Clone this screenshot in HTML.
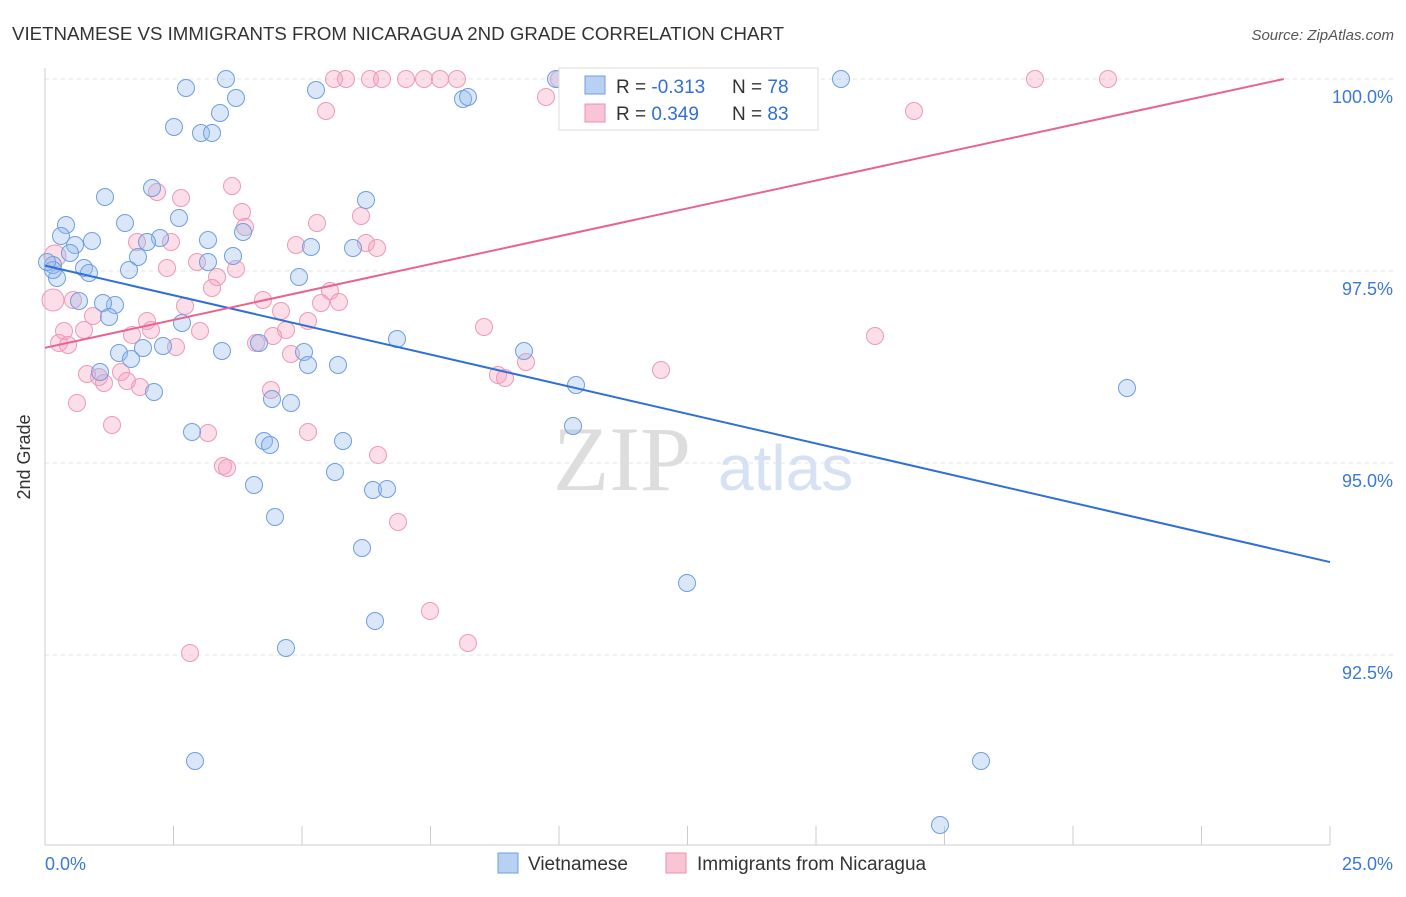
<!DOCTYPE html>
<html><head><meta charset="utf-8"><style>
body{margin:0;background:#fff;font-family:"Liberation Sans",sans-serif;}
svg text{font-family:"Liberation Sans",sans-serif;}
</style></head><body>
<svg width="1406" height="892" xmlns="http://www.w3.org/2000/svg">
<text x="12" y="40" font-size="18" fill="#333" textLength="772" lengthAdjust="spacingAndGlyphs">VIETNAMESE VS IMMIGRANTS FROM NICARAGUA 2ND GRADE CORRELATION CHART</text>
<text x="1394" y="40" font-size="15" fill="#555" font-style="italic" text-anchor="end">Source: ZipAtlas.com</text>
<g id="grid"></g>
<line x1="45" y1="845" x2="1330" y2="845" stroke="#ccc"/>
<line x1="45" y1="68" x2="45" y2="845" stroke="#ccc"/>
<g id="ticks"></g>
<text x="30" y="457" font-size="18" fill="#333" text-anchor="middle" transform="rotate(-90 30 457)">2nd Grade</text>
<text x="553" y="490" font-size="92" fill="#ddd" style="font-family:'Liberation Serif',serif">ZIP</text>
<text x="718" y="490" font-size="64" fill="#d6e2f3">atlas</text>
<g id="pts"></g>
<g id="lines"></g>
<g>
<rect x="559" y="68" width="259" height="62" fill="#fff" stroke="#ddd"/>
<rect x="585" y="76" width="20" height="18" fill="#b8d0f2" stroke="#6f9ee0"/>
<rect x="585" y="104" width="20" height="18" fill="#f9c4d4" stroke="#ec8faf"/>
<text x="616" y="93" font-size="19" fill="#333">R = <tspan fill="#2f6fd8">-0.313</tspan></text>
<text x="732" y="93" font-size="19" fill="#333">N = <tspan fill="#2f6fd8">78</tspan></text>
<text x="616" y="120" font-size="19" fill="#333">R = <tspan fill="#2f6fd8"> 0.349</tspan></text>
<text x="732" y="120" font-size="19" fill="#333">N = <tspan fill="#2f6fd8">83</tspan></text>
</g>
<g>
<rect x="498" y="853" width="20" height="20" fill="#b8d0f2" stroke="#6f9ee0"/>
<text x="528" y="870" font-size="19" fill="#333">Vietnamese</text>
<rect x="666" y="853" width="20" height="20" fill="#f9c4d4" stroke="#ec8faf"/>
<text x="697" y="870" font-size="19" fill="#333">Immigrants from Nicaragua</text>
</g>
</svg>
<script>
const yTicks=[100,97.5,95,92.5];
const yTickLabels=["100.0%","97.5%","95.0%","92.5%"];
const xTickLabels=["0.0%","25.0%"];
const blueFit=[97.57,93.71];
const pinkFit=[96.5,100,24.1];
const blueX=[186,226,236,220,174,201,212,316,463,468,556,841,105,152,366,66,61,75,92,125,179,160,147,208,243,311,353,233,208,138,129,84,89,57,53,70,299,79,115,103,109,182,397,524,119,131,143,163,222,259,304,308,338,100,154,576,1127,272,291,192,264,270,343,573,335,254,373,387,275,362,687,375,286,195,981,940,53,47].map(p=>(p-45)/1285*25);
const blueY=[88,79,98,113,127,133,133,90,99,97,79,79,197,188,200,225,236,245,241,223,218,238,242,240,232,247,248,256,262,257,270,268,273,278,265,253,277,301,305,303,317,323,339,351,353,359,348,346,351,343,352,365,365,372,392,385,388,399,403,432,441,445,441,426,472,485,490,489,517,548,583,621,648,761,761,825,270,262].map(p=>100-(p-79)/192*2.5);
const pinkX=[334,346,370,382,406,424,440,457,559,1035,1108,326,546,914,232,157,181,242,361,245,317,137,171,296,366,377,55,167,197,236,217,212,330,263,321,339,185,73,281,93,147,308,151,132,64,84,200,286,273,484,875,53,59,68,176,256,291,526,87,99,121,104,127,140,661,498,505,271,77,112,208,308,378,223,227,398,430,468,190].map(p=>(p-45)/1285*25);
const pinkY=[79,79,79,79,79,79,79,79,79,79,79,111,97,111,186,192,198,212,216,227,223,242,242,245,243,248,256,268,262,269,277,288,291,300,303,302,306,300,311,316,321,321,330,335,331,330,331,330,336,327,336,300,343,345,347,343,354,362,374,377,372,383,381,387,370,375,378,390,403,425,433,432,455,466,468,522,611,643,653].map(p=>100-(p-79)/192*2.5);
const NS="http://www.w3.org/2000/svg";
const sx=v=>45+v/25*1285, sy=v=>79+(100-v)/2.5*192;
function mk(tag,attrs,parent){const e=document.createElementNS(NS,tag);for(const k in attrs)e.setAttribute(k,attrs[k]);document.getElementById(parent).appendChild(e);return e;}
yTicks.forEach((t,i)=>{
 const l=mk('line',{x1:45,x2:1394,y1:sy(t),y2:sy(t),stroke:'#e3e3e3','stroke-dasharray':'4,4'},'grid');
 
 
 const tx=mk('text',{x:1393,y:sy(t)+24,'font-size':18,fill:'#3b78d8','text-anchor':'end'},'ticks');
 tx.textContent=yTickLabels[i];
 
 
});
for(let i=0;i<=10;i++){const x=45+i*128.5;
 const l=mk('line',{x1:x,x2:x,y1:826,y2:845,stroke:'#ccc'},'ticks');
 
 }
[[45,'start',0],[1393,'end',1]].forEach(([x,a,i])=>{const t=mk('text',{x:x,y:870,'font-size':18,fill:'#3b78d8','text-anchor':a},'ticks');t.textContent=xTickLabels[i];
 
 });
pinkX.forEach((v,i)=>{const c=mk('circle',{cx:sx(v),cy:sy(pinkY[i]),r:(i===0?8.5:8.5),fill:'rgba(245,160,190,0.35)',stroke:'#ec9ab6','stroke-width':1},'pts');
 
 });
blueX.forEach((v,i)=>{const c=mk('circle',{cx:sx(v),cy:sy(blueY[i]),r:8.5,fill:'rgba(150,185,235,0.35)',stroke:'#6f9ee0','stroke-width':1},'pts');
 
 });
document.querySelectorAll('#pts circle')[51].setAttribute('r',11);
document.querySelectorAll('#pts circle')[26].setAttribute('r',11);
const bl=mk('line',{x1:sx(0),y1:sy(blueFit[0]),x2:sx(25),y2:sy(blueFit[1]),stroke:'#2f6fd8','stroke-width':2},'lines');


const pl=mk('line',{x1:sx(0),y1:sy(pinkFit[0]),x2:sx(pinkFit[2]),y2:sy(pinkFit[1]),stroke:'#e8648e','stroke-width':2},'lines');


</script>
</body></html>
